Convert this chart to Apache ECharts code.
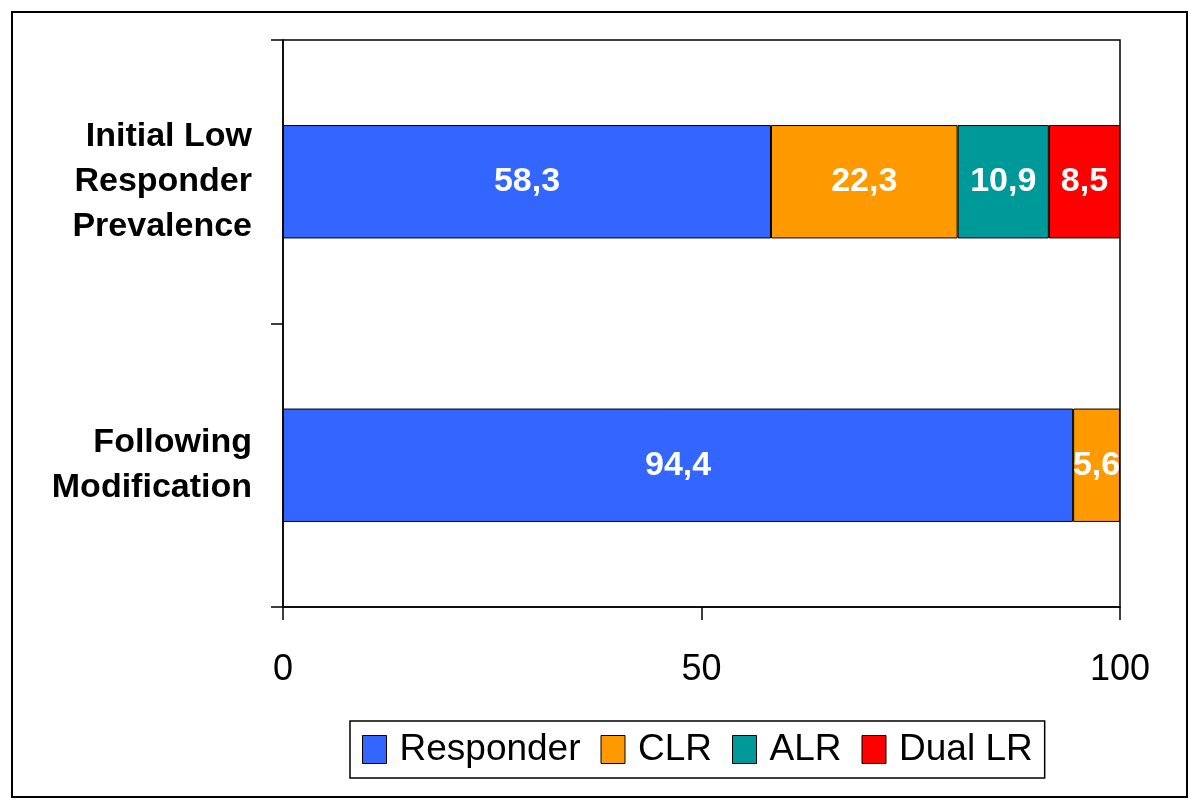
<!DOCTYPE html>
<html>
<head>
<meta charset="utf-8">
<script src="https://cdn.jsdelivr.net/npm/echarts@6/dist/echarts.min.js"></script>
<style>html,body{margin:0;padding:0;background:#fff}#c{width:1200px;height:810px}</style>
</head>
<body>
<div id="c"></div>
<script>
const categories = ['Initial Low\nResponder\nPrevalence', 'Following\nModification'];
const seriesNames = ['Responder', 'CLR', 'ALR', 'Dual LR'];
const responder = [58.3, 94.4];
const clr = [22.3, 5.6];
const alr = [10.9, null];
const dualLR = [8.5, null];
const xTicks = [0, 50, 100];
const colors = ['#3366FF', '#FF9900', '#009999', '#FF0000'];

const dataArrays = [responder, clr, alr, dualLR];
const FONT = 'Liberation Sans, Arial, sans-serif';

const chart = echarts.init(document.getElementById('c'));
chart.setOption({
  animation: false,
  backgroundColor: '#fff',
  textStyle: { fontFamily: FONT },
  graphic: [{
    type: 'rect',
    shape: { x: 12, y: 12, width: 1175, height: 785 },
    style: { fill: 'none', stroke: '#000', lineWidth: 2 },
    z: 100
  }],
  grid: {
    left: 283, right: 80, top: 40, bottom: 203,
    show: true, borderColor: '#000', borderWidth: 1.5, backgroundColor: 'transparent'
  },
  legend: {
    left: 350, top: 721,
    padding: [10, 12, 10, 12],
    borderColor: '#000', borderWidth: 1.5,
    icon: 'rect',
    itemWidth: 24, itemHeight: 28, itemGap: 20,
    textStyle: { fontSize: 37, color: '#000', fontFamily: FONT, padding: [0, 0, 0, 8] },
    data: seriesNames.map(n => ({ name: n, itemStyle: { borderColor: '#000', borderWidth: 1 } }))
  },
  xAxis: {
    type: 'value', min: xTicks[0], max: xTicks[xTicks.length - 1], interval: 50,
    axisLine: { show: true, lineStyle: { color: '#000', width: 1.5 } },
    axisTick: { show: true, length: 13, lineStyle: { color: '#000', width: 1.5 } },
    axisLabel: { fontSize: 36, color: '#000', margin: 45, fontFamily: FONT },
    splitLine: { show: false }
  },
  yAxis: {
    type: 'category', inverse: true, data: categories,
    axisLine: { show: true, lineStyle: { color: '#000', width: 1.5 } },
    axisTick: { show: true, length: 12, lineStyle: { color: '#000', width: 1.5 } },
    axisLabel: { fontSize: 34, fontWeight: 'bold', color: '#000', margin: 31, lineHeight: 45, align: 'right', fontFamily: FONT }
  },
  series: seriesNames.map((name, i) => ({
    name, type: 'bar', stack: 'total', barWidth: '40%',
    data: dataArrays[i],
    itemStyle: { color: colors[i], borderColor: '#000', borderWidth: 1 },
    label: {
      show: true, position: 'inside', color: '#fff', fontWeight: 'bold', fontSize: 34, fontFamily: FONT,
      formatter: p => p.value == null ? '' : String(p.value).replace('.', ',')
    }
  }))
});
</script>
</body>
</html>
